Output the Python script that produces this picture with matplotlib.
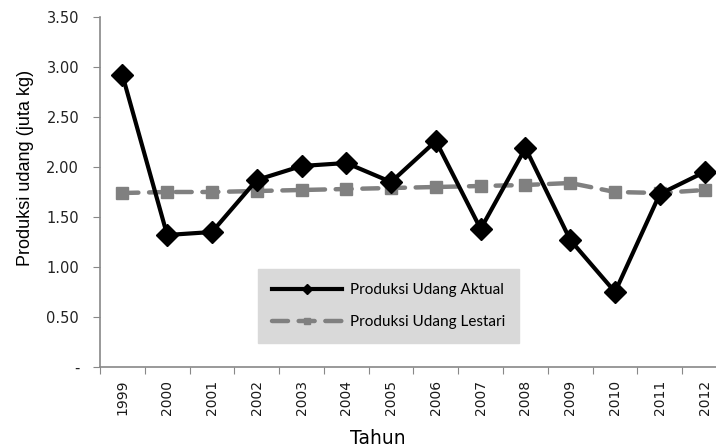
import matplotlib
matplotlib.use("Agg")
import matplotlib.pyplot as plt

# -------- Data --------
years = ["1999", "2000", "2001", "2002", "2003", "2004", "2005",
         "2006", "2007", "2008", "2009", "2010", "2011", "2012"]
aktual = [2.92, 1.32, 1.35, 1.87, 2.01, 2.04, 1.85,
          2.26, 1.38, 2.19, 1.27, 0.75, 1.73, 1.95]
lestari = [1.74, 1.75, 1.75, 1.76, 1.77, 1.78, 1.79,
           1.80, 1.81, 1.82, 1.84, 1.75, 1.74, 1.77]
y_ticks = [0, 0.5, 1.0, 1.5, 2.0, 2.5, 3.0, 3.5]
y_labels = ["-", "0.50", "1.00", "1.50", "2.00", "2.50", "3.00", "3.50"]

# -------- Plot --------
W, H = 716, 448
fig = plt.figure(figsize=(W / 100, H / 100), dpi=100)
ax = fig.add_axes([100 / W, 81 / H, 627 / W, 350 / H])

x = list(range(len(years)))
ax.plot(x, aktual, color="black", lw=3, marker="D", ms=11,
        label="Produksi Udang Aktual", zorder=3)
ax.plot(x, lestari, color="#808080", lw=3.2, ls=(0, (3.6, 2.4)),
        dash_capstyle="round", marker="s", ms=9,
        label="Produksi Udang Lestari", zorder=2)

ax.set_xlim(-0.5, len(years) - 0.5)
ax.set_ylim(0, 3.5)

# category ticks at boundaries, labels at centres
ax.set_xticks([i - 0.5 for i in range(len(years) + 1)])
ax.set_xticklabels([])
ax.set_xticks(x, minor=True)
ax.set_xticklabels(years, minor=True, rotation=90, fontsize=10,
                   family="DejaVu Sans", color="#1a1a1a")
ax.tick_params(axis="x", which="major", length=5, direction="out",
               color="#888888")
ax.tick_params(axis="x", which="minor", length=0, pad=9)

ax.set_yticks(y_ticks)
ax.set_yticklabels(y_labels, fontsize=10.5, family="DejaVu Sans",
                   color="#222222")
ax.tick_params(axis="y", length=5, direction="out", color="#888888", pad=10)

for s in ["top", "right"]:
    ax.spines[s].set_visible(False)
for s in ["left", "bottom"]:
    ax.spines[s].set_color("#888888")
    ax.spines[s].set_linewidth(1.2)

ax.set_ylabel("Produksi udang (juta kg)", fontsize=13,
              family="Liberation Sans", labelpad=9, y=0.569)
ax.set_xlabel("Tahun", fontsize=13.5, family="DejaVu Sans", labelpad=10,
              x=0.443)

leg = ax.legend(loc="lower left", bbox_to_anchor=(158 / 627, 24 / 350),
                frameon=True, fancybox=False,
                prop={"family": "Lato", "size": 11},
                handlelength=4.6, labelspacing=1.2, borderpad=0.9,
                handletextpad=0.5, borderaxespad=0, markerscale=0.45)
leg.get_frame().set_facecolor("#d9d9d9")
leg.get_frame().set_edgecolor("#d9d9d9")
leg.get_frame().set_alpha(1)

fig.savefig("out.png", dpi=100)
